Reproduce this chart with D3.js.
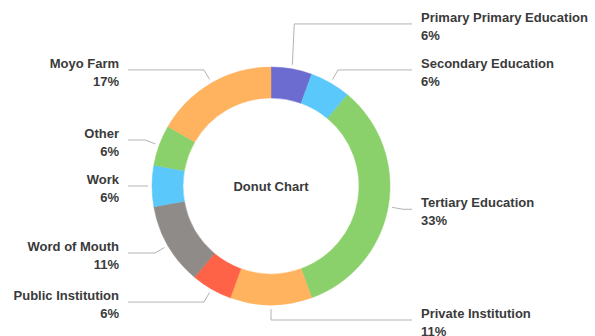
<!DOCTYPE html>
<html>
<head>
<meta charset="utf-8">
<script src="https://cdn.jsdelivr.net/npm/d3@7"></script>
<style>
  body { margin: 0; background: #fff; }
  svg { display: block; }
  text { font-family: "Liberation Sans", Arial, Helvetica, sans-serif; }
</style>
</head>
<body>
<div id="chart"></div>
<script>
// slice names and counts (clockwise from the top)
var categories = ["Primary Primary Education", "Secondary Education", "Tertiary Education",
                  "Private Institution", "Public Institution", "Word of Mouth",
                  "Work", "Other", "Moyo Farm"];
var counts = [1, 1, 6, 2, 1, 2, 1, 1, 3];
var colors = ["#6b6bd0", "#5ac8fa", "#8bd16b", "#ffb35f", "#ff6347",
              "#8f8b88", "#5ac8fa", "#8bd16b", "#ffb35f"];
var title = "Donut Chart";

var w = 595;
var h = 336;
var cx = 271, cy = 186;
var outerR = 119, innerR = 88;

var total = d3.sum(counts);
var data = categories.map(function(c, i) {
    return { name: c, value: counts[i], color: colors[i] };
});

var svg = d3.select("#chart")
    .append("svg")
    .attr("width", w)
    .attr("height", h);

var g = svg.append("g")
    .attr("transform", "translate(" + cx + "," + cy + ")");

var pie = d3.pie().sort(null).value(function(d) { return d.value; });
var arc = d3.arc().innerRadius(innerR).outerRadius(outerR);
var arcs = pie(data);

g.selectAll("path.slice")
    .data(arcs)
    .enter()
    .append("path")
    .attr("class", "slice")
    .attr("d", arc)
    .attr("fill", function(d) { return d.data.color; })
    .attr("stroke", function(d) { return d.data.color; })
    .attr("stroke-width", 0.5);

g.append("text")
    .attr("text-anchor", "middle")
    .attr("dy", "0.35em")
    .style("font-size", "13px")
    .style("font-weight", "bold")
    .attr("fill", "#3a3a3a")
    .text(title);

// label layout
function polar(a, r) {
    return [Math.sin(a) * r, -Math.cos(a) * r];
}
var labels = arcs.map(function(d) {
    var mid = (d.startAngle + d.endAngle) / 2;
    var p = polar(mid, outerR + 15);
    return {
        d: d,
        mid: mid,
        right: mid <= Math.PI + 1e-6,   // the bottom slice goes to the right
        y: p[1]
    };
});

// push overlapping labels up, working from the bottom of each side
var gap = 46;
[true, false].forEach(function(side) {
    var list = labels.filter(function(l) { return l.right === side; })
        .sort(function(a, b) { return b.y - a.y; });
    for (var i = 1; i < list.length; i++) {
        list[i].y = Math.min(list[i].y, list[i - 1].y - gap);
    }
});

var rightX = 412 - cx, leftX = 128 - cx;

labels.forEach(function(l) {
    var s = polar(l.mid, outerR + 4);
    var e = polar(l.mid, outerR + 15);
    var endX = l.right ? rightX : leftX;
    g.append("polyline")
        .attr("points", [s, [e[0], l.y], [endX, l.y]].map(function(p) { return p.join(","); }).join(" "))
        .attr("fill", "none")
        .attr("stroke", "#b3b3b3")
        .attr("stroke-width", 1);

    var tx = l.right ? endX + 9 : endX - 9;
    var t = g.append("text")
        .attr("text-anchor", l.right ? "start" : "end")
        .style("font-size", "13px")
        .style("font-weight", "bold")
        .attr("fill", "#3a3a3a");
    t.append("tspan")
        .attr("x", tx)
        .attr("y", l.y - 2)
        .text(l.d.data.name);
    t.append("tspan")
        .attr("x", tx)
        .attr("y", l.y + 16)
        .text(Math.round(l.d.data.value / total * 100) + "%");
});
</script>
</body>
</html>
